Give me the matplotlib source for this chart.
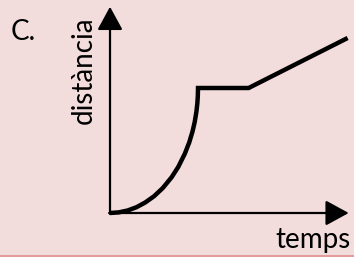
import matplotlib
matplotlib.use("Agg")
import matplotlib.pyplot as plt
from matplotlib.lines import Line2D

# distance-time sketch, values (arbitrary units)
curve_t = [0, 0.4, 0.8, 1.2, 1.6, 2.0, 2.4, 2.8, 3.1, 3.4, 3.6, 3.75, 3.85,
           3.93, 3.97, 3.99, 4.0]
curve_d = [0, 0.025, 0.10, 0.23, 0.42, 0.67, 1.0, 1.43, 1.84, 2.37, 2.82, 3.26,
           3.64, 4.07, 4.39, 4.65, 5.0]
flat_t = [4.0, 6.3]
flat_d = [5.0, 5.0]
slope_t = [6.3, 10.8]
slope_d = [5.0, 7.0]

t_axis_end = 10.85
d_axis_end = 8.25

bg = "#f2dcdc"
plt.rcParams["font.family"] = ["Lato", "DejaVu Sans"]

fig = plt.figure(figsize=(3.54, 2.57), dpi=100, facecolor=bg)
ax = fig.add_axes([0, 0, 1, 1])
ax.set_facecolor(bg)
ax.set_xlim(-5.0, 11.09)
ax.set_ylim(-1.76, 8.52)
ax.axis("off")

# axes with arrow heads
arrow = dict(arrowstyle="-|>,head_length=0.55,head_width=0.3", color="black",
             lw=1.6, mutation_scale=26, shrinkA=0, shrinkB=0)
ax.annotate("", xy=(t_axis_end, 0), xytext=(-0.04, 0), arrowprops=arrow)
ax.annotate("", xy=(0, d_axis_end), xytext=(0, -0.04), arrowprops=arrow)

# the graph
kw = dict(color="black", lw=3.2, solid_capstyle="butt", solid_joinstyle="miter")
ax.plot(curve_t + flat_t[1:] + slope_t[1:], curve_d + flat_d[1:] + slope_d[1:], **kw)

fig.text(11 / 354, 1 - 40 / 257, "C.", fontsize=20, ha="left", va="baseline")
fig.text(84 / 354, 1 - 70 / 257, "distància", fontsize=20, rotation=90,
         ha="center", va="center")
fig.text(351 / 354, 1 - 248 / 257, "temps", fontsize=20, ha="right", va="baseline")

fig.add_artist(Line2D([0, 1], [1.5 / 257, 1.5 / 257], transform=fig.transFigure,
                      color="#e39b9b", lw=1.5))

fig.savefig("out.png", dpi=100, facecolor=bg)
